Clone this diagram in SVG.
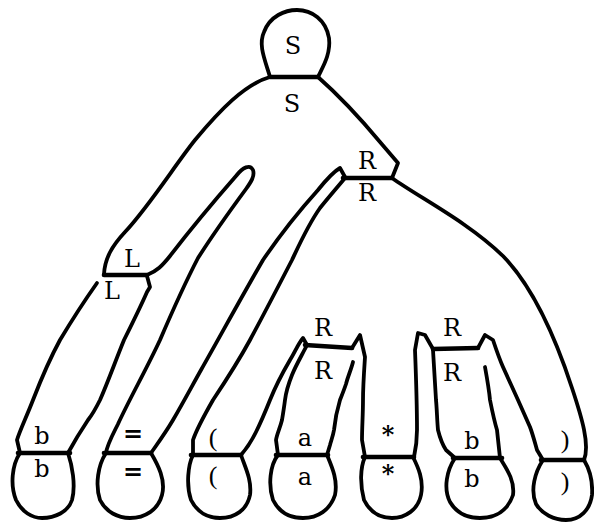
<svg xmlns="http://www.w3.org/2000/svg" width="594" height="522" viewBox="0 0 594 522">
  <style>
    .ln { fill: none; stroke: #000; stroke-width: 3.8; stroke-linecap: round; stroke-linejoin: round; }
    .sep { fill: none; stroke: #000; stroke-width: 4.6; stroke-linecap: round; }
    .lbl { font-family: "DejaVu Serif", "Liberation Serif", serif; font-size: 24px; text-anchor: middle; fill: #000; }
    .bd { font-weight: bold; }
    .pn { font-family: "Liberation Serif", "DejaVu Serif", serif; font-size: 26px; text-anchor: middle; fill: #000; }
  </style>
  <rect width="594" height="522" fill="#fff"/>

  <!-- root S -->
  <g id="node-S-root">
    <path class="ln" d="M270,77 C265,60 258,45 264,32 C270,16 285,10 297,10 C312,10 326,20 329,38 C331,55 322,68 318,77"/>
    <text class="lbl" x="293" y="54">S</text>
  </g>

  <!-- S: outer shell with the "=" stalk -->
  <g id="node-S">
    <path class="ln" d="M270,77 C245,84 220,110 195,140 C175,165 150,205 125,232 C112,246 105,258 104,274"/>
    <path class="ln" d="M147,275 C157,271 162,266 170,256 C190,230 215,200 236,176 C243,167 250,164 253,170 C255,176 251,182 246,189 C232,208 212,236 198,258 C184,285 172,312 160,340 C146,370 130,398 118,424 C112,436 107,445 106,453"/>
    <path class="ln" d="M151,453 C158,443 166,432 173,420 C183,403 192,386 201,370 C222,333 242,296 263,260 C280,235 300,210 318,190 C326,180 333,172 340,168 L345,177"/>
    <path class="ln" d="M318,77 C335,92 360,118 380,142 L398,163 L392,178"/>
    <text class="lbl" x="292" y="112">S</text>
    <text class="lbl" x="132" y="267">L</text>
    <text class="lbl" x="367" y="169">R</text>
    <text class="lbl bd" x="133" y="442">=</text>
  </g>

  <!-- L -->
  <g id="node-L">
    <path class="ln" d="M97,283 C85,300 72,320 60,340 C48,362 40,382 33,400 C26,418 20,430 17,440 L20,453"/>
    <path class="ln" d="M147,276 L150,287 L147,292 C140,308 132,324 124,340 C115,362 108,382 100,400 C95,410 92,415 88,420 C80,432 74,442 68,453"/>
    <text class="lbl" x="112" y="299">L</text>
    <text class="lbl" x="42" y="444">b</text>
  </g>

  <!-- R -->
  <g id="node-R">
    <path class="ln" d="M345,178 C335,190 328,198 320,208 C308,225 300,243 292,260 C278,287 264,314 250,340 C238,362 225,382 213,400 C205,414 197,428 193,440 L193,455"/>
    <path class="ln" d="M241,455 C247,448 252,440 256,432 C262,420 266,410 270,400 C276,385 283,372 290,360 C295,352 298,344 303,338 L307,345"/>
    <path class="ln" d="M352,348 L360,335 L365,357 C364,372 363,386 363,400 C363,414 362,428 362,440 L365,457"/>
    <path class="ln" d="M414,457 C416,448 417,440 417,430 C417,403 416,376 415,350 L418,333 L425,335 L433,349"/>
    <path class="ln" d="M478,348 L485,335 L493,340 C496,349 499,358 503,367 C508,378 513,389 518,400 C522,409 526,418 530,427 C533,435 535,443 537,450 L543,460"/>
    <path class="ln" d="M392,178 C420,198 468,222 503,256 C530,284 553,330 572,388 C582,418 590,445 584,460"/>
    <text class="lbl" x="367" y="201">R</text>
    <text class="lbl" x="323" y="336">R</text>
    <text class="lbl" x="452" y="336">R</text>
    <text class="pn" x="213" y="446">(</text>
    <text class="lbl bd" x="388" y="443">*</text>
    <text class="pn" x="565" y="448">)</text>
  </g>

  <!-- R (left inner) -->
  <g id="node-R1">
    <path class="ln" d="M307,345 C302,355 296,365 292,375 C288,385 286,392 285,400 C284,408 283,414 282,420 C280,428 277,434 276,440 L278,455"/>
    <path class="ln" d="M353,362 C351,370 348,376 346,384 C344,390 342,395 340,400 C337,410 335,420 334,430 C333,436 331,441 330,445 L327,455"/>
    <text class="lbl" x="323" y="379">R</text>
    <text class="lbl" x="305" y="446">a</text>
  </g>

  <!-- R (right inner) -->
  <g id="node-R2">
    <path class="ln" d="M433,350 C434,367 435,383 436,400 C437,410 437,420 438,430 C440,438 442,444 446,450 L455,458"/>
    <path class="ln" d="M485,367 C487,378 489,389 490,400 C492,410 494,420 497,430 C498,440 499,449 500,458"/>
    <text class="lbl" x="452" y="381">R</text>
    <text class="lbl" x="472" y="449">b</text>
  </g>

  <!-- leaves -->
  <g id="leaf-b1">
    <path class="ln" d="M20,453 C12,465 10,485 16,500 C22,512 32,518 42,518 C55,518 68,512 72,500 C76,485 72,465 68,453"/>
    <text class="lbl" x="42" y="477">b</text>
  </g>
  <g id="leaf-eq">
    <path class="ln" d="M106,453 C98,465 95,485 100,500 C106,512 118,518 130,518 C145,518 158,510 162,495 C166,480 158,465 151,453"/>
    <text class="lbl bd" x="133" y="480">=</text>
  </g>
  <g id="leaf-lparen">
    <path class="ln" d="M193,455 C188,465 186,485 191,500 C197,512 208,518 220,518 C235,518 247,510 250,495 C252,480 245,467 241,455"/>
    <text class="pn" x="213" y="484">(</text>
  </g>
  <g id="leaf-a">
    <path class="ln" d="M278,455 C270,465 268,485 273,500 C279,512 290,518 303,518 C318,518 330,510 335,495 C338,480 332,467 327,455"/>
    <text class="lbl" x="305" y="485">a</text>
  </g>
  <g id="leaf-star">
    <path class="ln" d="M365,457 C360,468 360,485 364,500 C370,512 380,518 392,518 C405,518 418,510 421,495 C424,480 418,467 413,457"/>
    <text class="lbl bd" x="388" y="482">*</text>
  </g>
  <g id="leaf-b2">
    <path class="ln" d="M455,458 C447,470 443,488 450,502 C456,512 466,518 480,518 C496,518 508,510 513,495 C515,480 506,468 500,458"/>
    <text class="lbl" x="472" y="487">b</text>
  </g>
  <g id="leaf-rparen">
    <path class="ln" d="M543,460 C535,472 530,490 536,504 C542,514 554,520 566,520 C580,520 590,510 592,495 C593,480 590,470 584,460"/>
    <text class="pn" x="565" y="490">)</text>
  </g>

  <!-- boundaries between parent and child -->
  <g id="connectors">
    <path class="sep" d="M270,77 L318,77"/>
    <path class="sep" d="M104,275 L147,275"/>
    <path class="sep" d="M343,178 L392,178"/>
    <path class="sep" d="M305,345 L352,348"/>
    <path class="sep" d="M433,349 L478,348"/>
    <path class="sep" d="M18,453 L70,453"/>
    <path class="sep" d="M104,453 L151,453"/>
    <path class="sep" d="M191,455 L241,455"/>
    <path class="sep" d="M276,455 L328,455"/>
    <path class="sep" d="M363,457 L414,457"/>
    <path class="sep" d="M453,458 L502,458"/>
    <path class="sep" d="M541,460 L584,460"/>
  </g>
</svg>
